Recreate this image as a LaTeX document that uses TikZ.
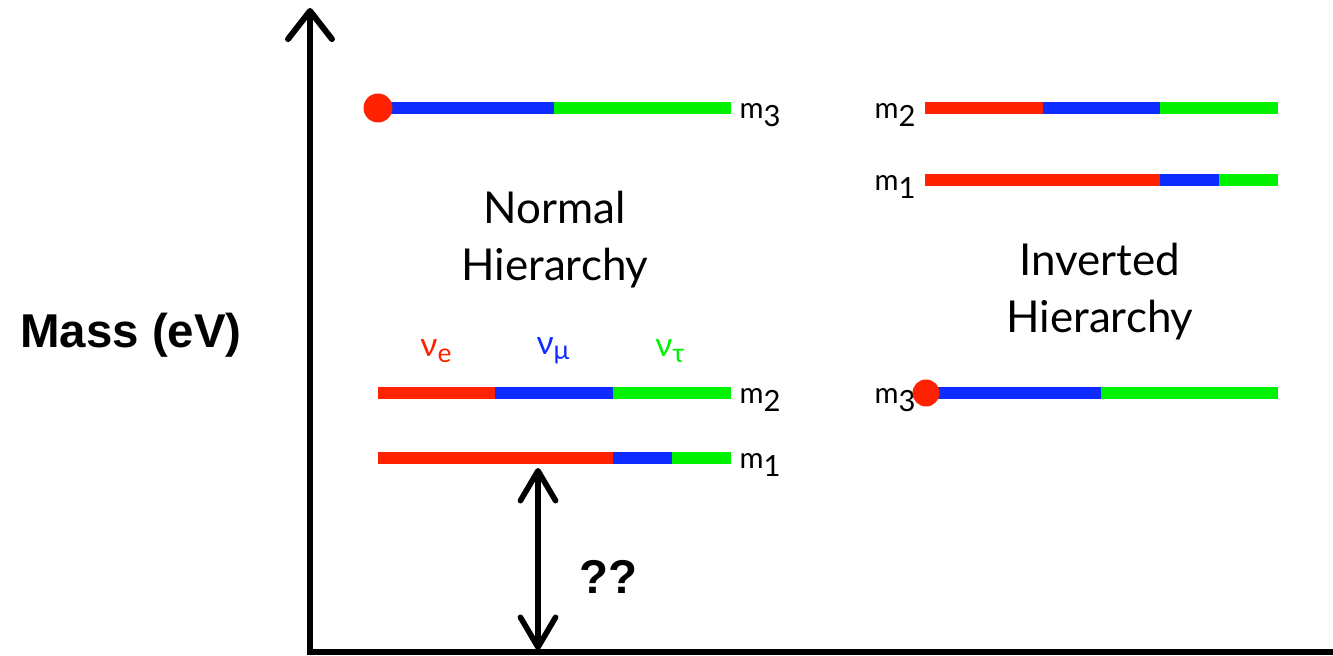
\documentclass[tikz,border=0pt]{standalone}
\usepackage{fontspec}
\setmainfont{Lato}
\newfontfamily\arialfont{Liberation Sans}
\usetikzlibrary{arrows.meta}

\begin{document}
\begin{tikzpicture}[
    >={Straight Barb[length=8pt,width=12.5pt,line cap=round,line join=round]},
    axisline/.style={line width=1.7pt},
    gaparrow/.style={line width=1.6pt,<->,>={Straight Barb[length=8.5pt,width=10pt,line cap=round,line join=round]}},
    seg/.style={line width=0.125cm,draw=#1},
    lvl/.style={font=\fontsize{8.3}{10}\selectfont,inner sep=0pt,anchor=base west},
    flav/.style={font=\fontsize{9.5}{11}\selectfont,inner sep=0pt},
    hier/.style={font=\fontsize{12.5}{16.2}\selectfont,align=center,inner sep=0pt},
    big/.style={font=\arialfont\bfseries\fontsize{13.5}{16}\selectfont,inner sep=0pt},
]
\definecolor{nured}{RGB}{255,34,0}    \definecolor{nublue}{RGB}{14,44,255}
\definecolor{nugreen}{RGB}{0,242,0}

\def\lsub#1{\raisebox{-2pt}{#1}}
\def\fsub#1{\raisebox{-1.6pt}{\fontsize{7.5}{8}\selectfont #1}}

\useasboundingbox (0,0) rectangle (13.33,6.56);

% ================= axes =================
\coordinate (ytop) at (3.10,6.48);
\coordinate (origin) at (3.10,0.04);
\coordinate (xend) at (13.33,0.04);
\draw[axisline,<-] (ytop) -- (origin) -- (xend);
\node[big] (mass) at (1.31,3.21) {Mass (eV)};

% ================= Normal hierarchy (left) =================
\foreach \a/\b/\c in {3.78/5.54/nublue,5.54/7.31/nugreen} { \draw[seg=\c] (\a,5.48) -- (\b,5.48); }
\fill[nured] (3.78,5.48) circle (0.145);
\node[lvl] (nhm3) at (7.39,5.37) {m\lsub{3}};

\node[hier] (nhtxt) at (5.55,4.16) {Normal\\Hierarchy};

\node[flav,text=nured] (nue) at (4.36,3.05) {ν\fsub{e}};
\node[flav,text=nublue] (numu) at (5.53,3.05) {ν\fsub{μ}};
\node[flav,text=nugreen] (nutau) at (6.70,3.05) {ν\fsub{τ}};

\foreach \a/\b/\c in {3.78/4.95/nured,4.95/6.13/nublue,6.13/7.31/nugreen} { \draw[seg=\c] (\a,2.63) -- (\b,2.63); }
\node[lvl] (nhm2) at (7.39,2.52) {m\lsub{2}};
\foreach \a/\b/\c in {3.78/6.13/nured,6.13/6.72/nublue,6.72/7.31/nugreen} { \draw[seg=\c] (\a,1.98) -- (\b,1.98); }
\node[lvl] (nhm1) at (7.39,1.87) {m\lsub{1}};

% unknown lightest mass
\coordinate (gaptop) at (5.38,1.88);
\coordinate (gapbot) at (5.38,0.06);
\draw[gaparrow] (gaptop) -- (gapbot);
\node[big] (qq) at (6.08,0.79) {??};

% ================= Inverted hierarchy (right) =================
\foreach \a/\b/\c in {9.25/10.43/nured,10.43/11.60/nublue,11.60/12.78/nugreen} { \draw[seg=\c] (\a,5.48) -- (\b,5.48); }
\node[lvl] (ihm2) at (8.74,5.37) {m\lsub{2}};
\foreach \a/\b/\c in {9.25/11.60/nured,11.60/12.19/nublue,12.19/12.78/nugreen} { \draw[seg=\c] (\a,4.76) -- (\b,4.76); }
\node[lvl] (ihm1) at (8.74,4.65) {m\lsub{1}};

\node[hier] (ihtxt) at (11.00,3.64) {Inverted\\Hierarchy};

\node[lvl] (ihm3) at (8.74,2.52) {m\lsub{3}};
\foreach \a/\b/\c in {9.26/11.01/nublue,11.01/12.78/nugreen} { \draw[seg=\c] (\a,2.63) -- (\b,2.63); }
\fill[nured] (9.26,2.63) circle (0.135);

\end{tikzpicture}
\end{document}
